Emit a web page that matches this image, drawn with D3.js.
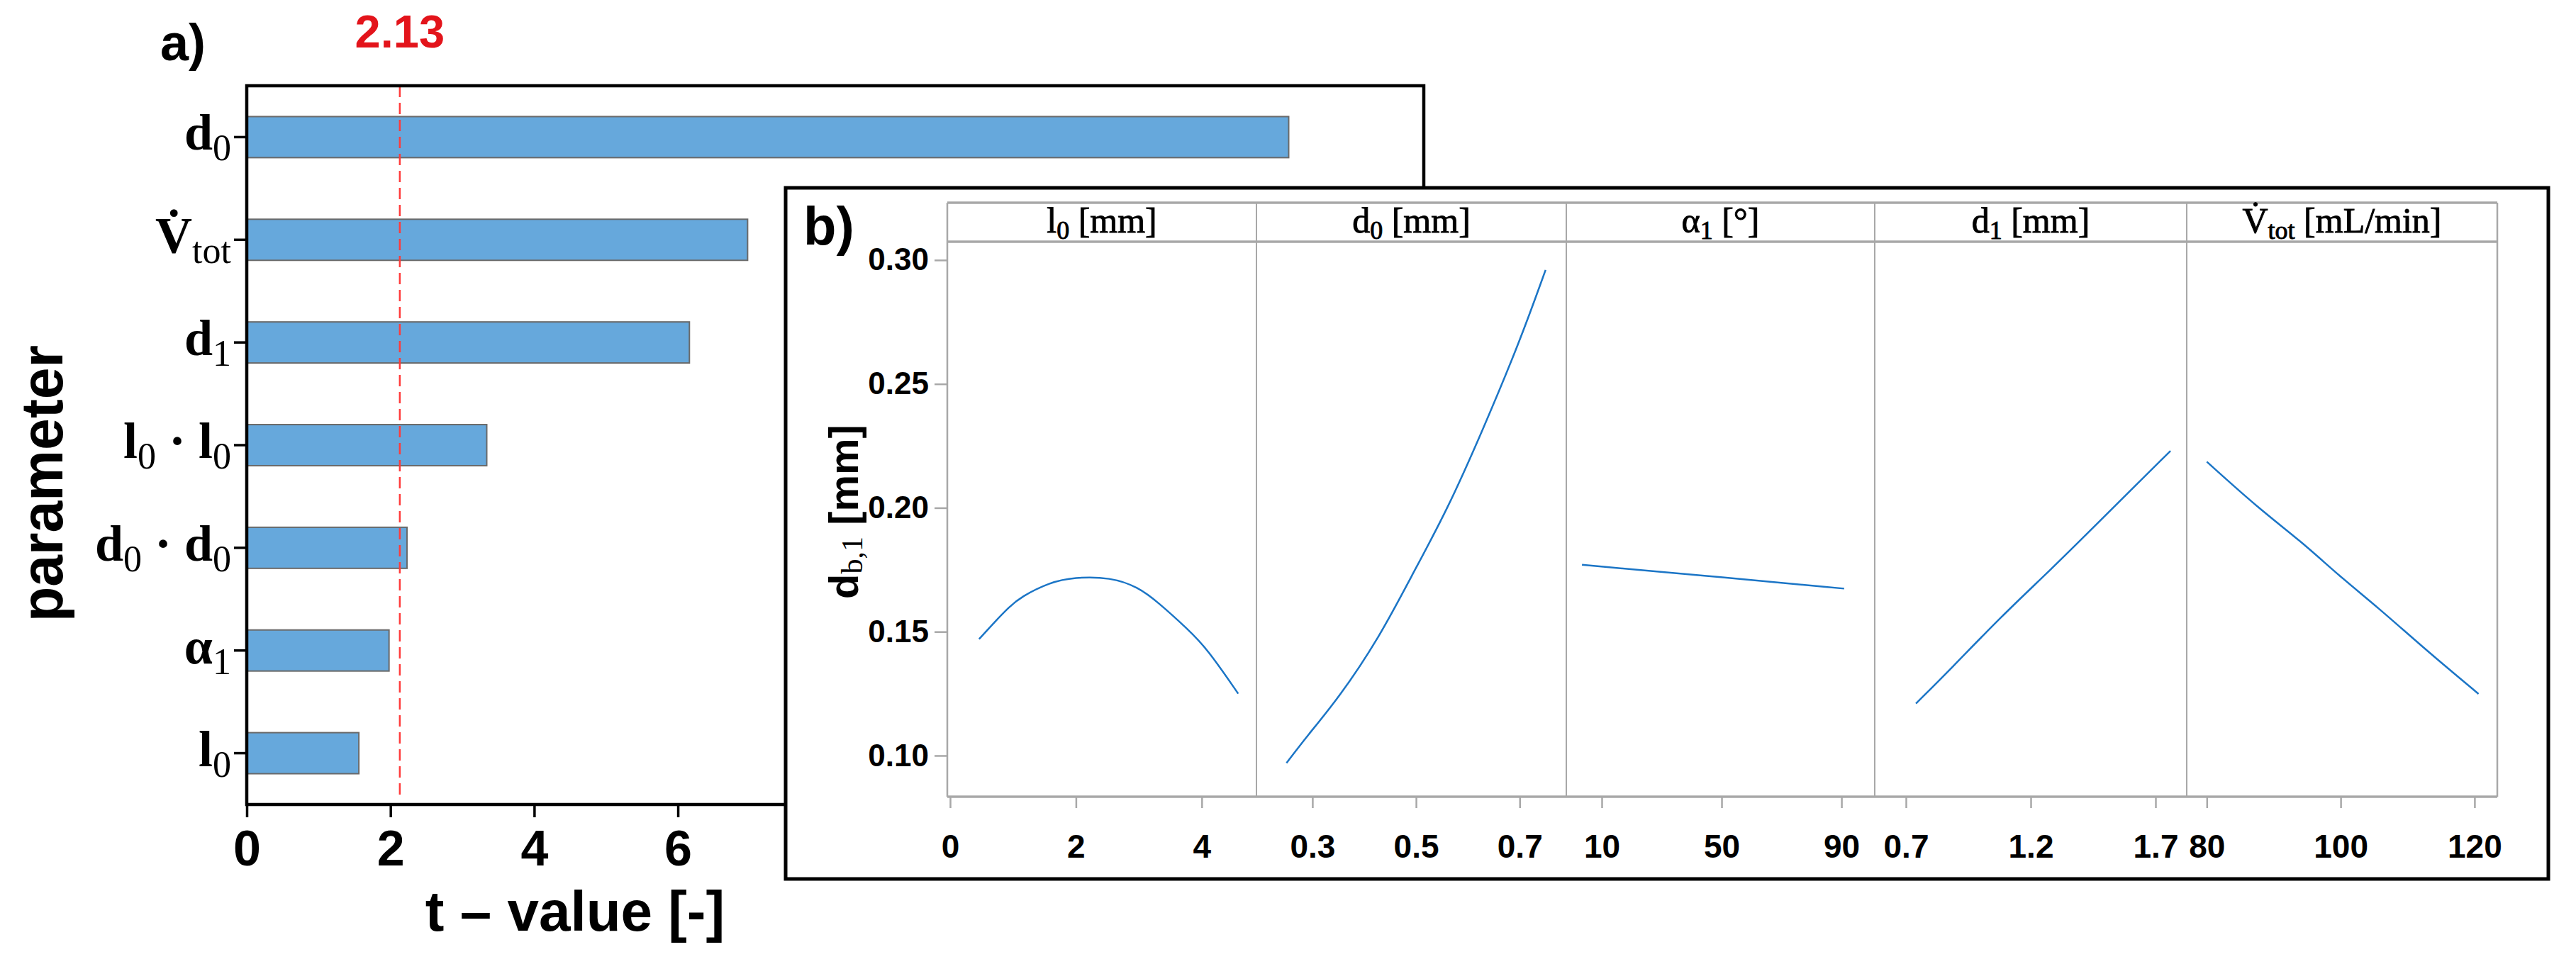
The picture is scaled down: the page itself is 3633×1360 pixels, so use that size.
<!DOCTYPE html>
<html><head><meta charset="utf-8">
<script src="https://cdn.jsdelivr.net/npm/d3@7"></script>
<style>body{margin:0;background:#fff;} text{white-space:pre;}</style>
</head><body>
<script>
// ---------------- data ----------------
const params = ["d0", "Vtot", "d1", "l0*l0", "d0*d0", "alpha1", "l0"];
const paramLabels = ["d_{0}", "V\u0307_{tot}", "d_{1}", "l_{0} \u00b7 l_{0}", "d_{0} \u00b7 d_{0}", "\u03b1_{1}", "l_{0}"];
const tValues = [14.5, 6.97, 6.16, 3.34, 2.23, 1.98, 1.56];
const tCritical = 2.13;
const tTicks = [0, 2, 4, 6];
const tTickLabels = ["0", "2", "4", "6"];

const factorHeaders = ["l_{0} [mm]", "d_{0} [mm]", "\u03b1_{1} [\u00b0]", "d_{1} [mm]", "V\u0307_{tot} [mL/min]"];
const l0X = [0.46, 0.71, 0.94, 1.12, 1.59, 1.97, 2.55, 2.99, 3.30, 3.78, 4.09, 4.58];
const l0Y = [0.147, 0.154, 0.160, 0.164, 0.170, 0.172, 0.172, 0.168, 0.162, 0.151, 0.143, 0.125];
const d0X = [0.25, 0.29, 0.35, 0.43, 0.49, 0.56, 0.63, 0.70, 0.75];
const d0Y = [0.097, 0.108, 0.123, 0.148, 0.172, 0.199, 0.232, 0.267, 0.296];
const alphaX = [3.4, 50, 90.9];
const alphaY = [0.177, 0.172, 0.1674];
const d1X = [0.74, 0.88, 1.08, 1.28, 1.47, 1.63, 1.76];
const d1Y = [0.121, 0.135, 0.156, 0.175, 0.194, 0.210, 0.223];
const vX = [80.0, 87.9, 94.0, 100.0, 105.5, 112.7, 120.6];
const vY = [0.2186, 0.1994, 0.1867, 0.172, 0.160, 0.1427, 0.1249];
const facetTicks = [[0, 2, 4], [0.3, 0.5, 0.7], [10, 50, 90], [0.7, 1.2, 1.7], [80, 100, 120]];
const facetTickLabels = [["0", "2", "4"], ["0.3", "0.5", "0.7"], ["10", "50", "90"], ["0.7", "1.2", "1.7"], ["80", "100", "120"]];
const facetDomains = [[-0.045, 4.87], [0.192, 0.79], [-1.83, 101.1], [0.575, 1.825], [77.0, 123.4]];
const respTicks = [0.10, 0.15, 0.20, 0.25, 0.30];
const respTickLabels = ["0.10", "0.15", "0.20", "0.25", "0.30"];
const respDomain = [0.0834, 0.3074];

// ---------------- helpers ----------------
const SANS = "'Liberation Sans', Arial, sans-serif";
const SERIF = "'Liberation Serif', 'Times New Roman', serif";

function rich(sel, str, o) {
  const parts = str.split(/_\{([^}]*)\}/);
  let off = 0;
  parts.forEach((p, i) => {
    if (!p) return;
    const sub = i % 2 === 1;
    const target = sub ? o.subDy : 0;
    sel.append("tspan")
      .attr("dy", target - off)
      .attr("font-size", sub ? o.subSize : o.size)
      .attr("font-weight", sub ? o.subWeight : o.weight)
      .attr("font-family", sub ? (o.subFamily || o.family) : o.family)
      .text(p);
    off = target;
  });
}

const W = 3633, H = 1360;
const svg = d3.select("body").append("svg").attr("width", W).attr("height", H)
  .style("display", "block");

// ---------------- panel a ----------------
const A = {left: 348, right: 2008, top: 121, bottom: 1135};
const xA = d3.scaleLinear().domain([0, 16.38]).range([A.left, A.right]);
const yA = d3.scaleBand().domain(params).range([A.top, A.bottom]).paddingInner(0.6).paddingOuter(0.3);
const gA = svg.append("g");

gA.selectAll("rect.bar").data(params).join("rect")
  .attr("class", "bar")
  .attr("x", xA(0))
  .attr("y", d => yA(d))
  .attr("width", (d, i) => xA(tValues[i]) - xA(0))
  .attr("height", yA.bandwidth())
  .attr("fill", "#66A8DC")
  .attr("stroke", "#6A6A6A")
  .attr("stroke-width", 2);

gA.append("line")
  .attr("x1", xA(tCritical)).attr("x2", xA(tCritical))
  .attr("y1", A.top).attr("y2", A.bottom - 10)
  .attr("stroke", "#FF3B3B").attr("stroke-width", 2.5)
  .attr("stroke-dasharray", "16,8");

gA.append("text")
  .attr("x", xA(tCritical)).attr("y", 67)
  .attr("text-anchor", "middle")
  .attr("font-family", SANS).attr("font-weight", "bold").attr("font-size", 65)
  .attr("fill", "#E3141B")
  .text(tCritical.toFixed(2));

// x axis
const axA = gA.append("g").attr("transform", `translate(0,${A.bottom})`)
  .call(d3.axisBottom(xA).tickValues(tTicks).tickSize(18).tickPadding(18)
    .tickFormat((d, i) => tTickLabels[i]));
axA.select(".domain").remove();
axA.selectAll(".tick line").attr("stroke", "#000").attr("stroke-width", 3.5);
axA.selectAll(".tick text").attr("font-family", SANS).attr("font-weight", "bold")
  .attr("font-size", 70).attr("fill", "#000");

// y axis ticks
const ayA = gA.append("g").attr("transform", `translate(${A.left},0)`)
  .call(d3.axisLeft(yA).tickSize(18).tickFormat(""));
ayA.select(".domain").remove();
ayA.selectAll(".tick line").attr("stroke", "#000").attr("stroke-width", 3.5);

// category labels
params.forEach((p, i) => {
  const t = gA.append("text")
    .attr("x", A.left - 22)
    .attr("y", yA(p) + yA.bandwidth() / 2 + 18)
    .attr("text-anchor", "end")
    .attr("fill", "#000");
  rich(t, paramLabels[i], {size: 72, subSize: 52, subDy: 15, weight: "bold", subWeight: "normal", family: SERIF});
});

// box
gA.append("rect")
  .attr("x", A.left).attr("y", A.top)
  .attr("width", A.right - A.left).attr("height", A.bottom - A.top)
  .attr("fill", "none").attr("stroke", "#000").attr("stroke-width", 4.5);

// titles
gA.append("text")
  .attr("x", 811).attr("y", 1313).attr("text-anchor", "middle")
  .attr("font-family", SANS).attr("font-weight", "bold").attr("font-size", 80)
  .text("t \u2013 value [-]");
gA.append("text")
  .attr("transform", "translate(88,682) rotate(-90)")
  .attr("text-anchor", "middle")
  .attr("font-family", SANS).attr("font-weight", "bold").attr("font-size", 84)
  .attr("textLength", 390).attr("lengthAdjust", "spacingAndGlyphs")
  .text("parameter");
gA.append("text")
  .attr("x", 226).attr("y", 85)
  .attr("font-family", SANS).attr("font-weight", "bold").attr("font-size", 72)
  .text("a)");

// ---------------- panel b ----------------
const B = {left: 1108, right: 3594, top: 265, bottom: 1240};
const P = {left: 1336, right: 3522, headTop: 286, top: 341, bottom: 1124};
const gB = svg.append("g");
gB.append("rect")
  .attr("x", B.left).attr("y", B.top)
  .attr("width", B.right - B.left).attr("height", B.bottom - B.top)
  .attr("fill", "#fff").attr("stroke", "#000").attr("stroke-width", 5);

gB.append("text")
  .attr("x", 1133).attr("y", 345)
  .attr("font-family", SANS).attr("font-weight", "bold").attr("font-size", 76)
  .text("b)");

const yB = d3.scaleLinear().domain(respDomain).range([P.bottom, P.top]);
const facetEdges = [1336, 1772, 2209, 2644, 3084, 3522];
const series = [[l0X, l0Y], [d0X, d0Y], [alphaX, alphaY], [d1X, d1Y], [vX, vY]];
const GRAY = "#A8A8A8";

// header strip
gB.append("line").attr("x1", P.left).attr("x2", P.right).attr("y1", P.headTop).attr("y2", P.headTop)
  .attr("stroke", GRAY).attr("stroke-width", 3.5);
gB.append("line").attr("x1", P.left).attr("x2", P.right).attr("y1", P.top).attr("y2", P.top)
  .attr("stroke", GRAY).attr("stroke-width", 3.5);

series.forEach((s, i) => {
  const x0 = facetEdges[i], x1 = facetEdges[i + 1];
  const xs = d3.scaleLinear().domain(facetDomains[i]).range([x0, x1]);
  const g = gB.append("g");
  // header text
  const t = g.append("text")
    .attr("x", (x0 + x1) / 2).attr("y", 328)
    .attr("text-anchor", "middle").attr("fill", "#000")
    .attr("stroke", "#000").attr("stroke-width", 0.9);
  rich(t, factorHeaders[i], {size: 50, subSize: 36, subDy: 9, weight: "normal", subWeight: "normal", family: SERIF});
  // x axis
  const ax = g.append("g").attr("transform", `translate(0,${P.bottom})`)
    .call(d3.axisBottom(xs).tickValues(facetTicks[i]).tickSize(16).tickPadding(37)
      .tickFormat((d, k) => facetTickLabels[i][k]));
  ax.select(".domain").remove();
  ax.selectAll(".tick line").attr("stroke", GRAY).attr("stroke-width", 2.5);
  ax.selectAll(".tick text").attr("font-family", SANS).attr("font-weight", "bold")
    .attr("font-size", 46).attr("fill", "#000");
  // curve
  const pts = s[0].map((v, k) => [v, s[1][k]]);
  g.append("path").datum(pts)
    .attr("d", d3.line().x(d => xs(d[0])).y(d => yB(d[1])).curve(d3.curveBasis))
    .attr("fill", "none").attr("stroke", "#1B75C6").attr("stroke-width", 2.5);
});

// facet dividers and borders
facetEdges.forEach((e, i) => {
  gB.append("line").attr("x1", e).attr("x2", e)
    .attr("y1", P.headTop).attr("y2", P.bottom)
    .attr("stroke", GRAY).attr("stroke-width", (i === 0 || i === 5) ? 2.5 : 2);
});
gB.append("line").attr("x1", P.left).attr("x2", P.right).attr("y1", P.bottom).attr("y2", P.bottom)
  .attr("stroke", GRAY).attr("stroke-width", 3.5);

// y axis
const ayB = gB.append("g").attr("transform", `translate(${P.left},0)`)
  .call(d3.axisLeft(yB).tickValues(respTicks).tickSize(18).tickPadding(8)
    .tickFormat((d, k) => respTickLabels[k]));
ayB.select(".domain").remove();
ayB.selectAll(".tick line").attr("stroke", GRAY).attr("stroke-width", 2.5);
ayB.selectAll(".tick text").attr("font-family", SANS).attr("font-weight", "bold")
  .attr("font-size", 44).attr("fill", "#000");

// y title
const yt = gB.append("text")
  .attr("transform", "translate(1210,722) rotate(-90)")
  .attr("text-anchor", "middle").attr("fill", "#000");
rich(yt, "d_{b,1} [mm]", {size: 58, subSize: 42, subDy: 6, weight: "bold", subWeight: "normal", family: SANS, subFamily: SERIF});
</script>
</body></html>
